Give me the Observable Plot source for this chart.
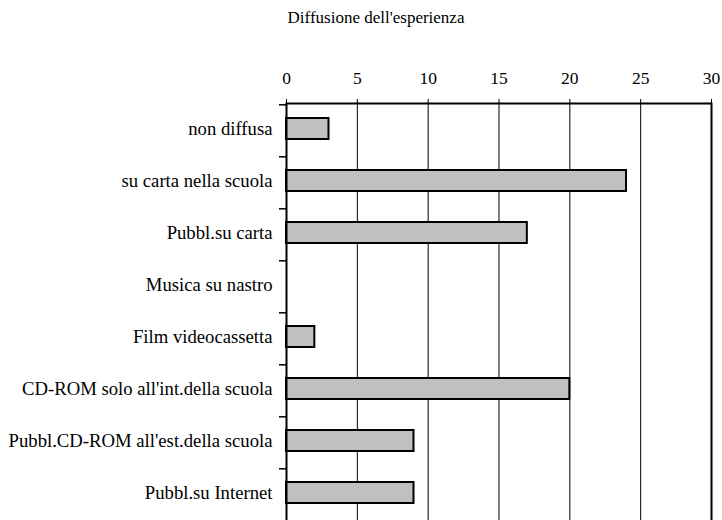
<!DOCTYPE html>
<html><head><meta charset="utf-8">
<script src="https://cdn.jsdelivr.net/npm/d3@7"></script>
<script src="https://cdn.jsdelivr.net/npm/@observablehq/plot@0.6"></script>
<style>
body{margin:0;background:#fff;font-family:"Liberation Serif","Times New Roman",serif;}
#title{height:40px;box-sizing:border-box;padding-top:8px;padding-left:30px;text-align:center;font-size:17px;line-height:20px;color:#000;}
</style></head>
<body>
<div id="title">Diffusione dell'esperienza</div>
<div id="chart"></div>
<script>
const categories = ["non diffusa","su carta nella scuola","Pubbl.su carta","Musica su nastro","Film videocassetta","CD-ROM solo all'int.della scuola","Pubbl.CD-ROM all'est.della scuola","Pubbl.su Internet"];
const values = [3, 24, 17, 0, 2, 20, 9, 9];
const xTicks = [0, 5, 10, 15, 20, 25, 30];
const gridTicks = [5, 10, 15, 20, 25];

const data = categories.map((c, i) => ({cat: c, value: values[i]}));
const step = 419 / categories.length;

const chart = Plot.plot({
  width: 722,
  height: 482,
  marginTop: 63,
  marginBottom: 0,
  marginLeft: 286,
  marginRight: 11,
  style: {fontFamily: '"Liberation Serif","Times New Roman",serif', fontSize: "17.5px", color: "#000", background: "#fff"},
  x: {domain: [0, 30], axis: null, label: null},
  y: {domain: categories, paddingInner: 0.6, paddingOuter: 0.3, axis: null, label: null},
  marks: [
    Plot.ruleX(gridTicks, {stroke: "#000", strokeWidth: 1}),
    Plot.barX(data, {y: "cat", x: "value", fill: "#c0c0c0", stroke: "#000", strokeWidth: 2, dy: -2}),
    Plot.frame({stroke: "#000", strokeWidth: 2}),
    Plot.axisX(xTicks, {anchor: "top", label: null, tickSize: 5, tickPadding: 15, stroke: "#000", fill: "#000", tickFormat: d => String(d), fontSize: 17.5}),
    Plot.axisY({anchor: "left", label: null, tickSize: 0, tickPadding: 14, fill: "#000", fontSize: 18.7, dy: -2}),
    Plot.axisY(categories, {anchor: "left", label: null, tickSize: 7, text: null, stroke: "#000", strokeWidth: 1.5, dy: -step / 2})
  ]
});
document.getElementById("chart").appendChild(chart);
</script>
</body></html>
